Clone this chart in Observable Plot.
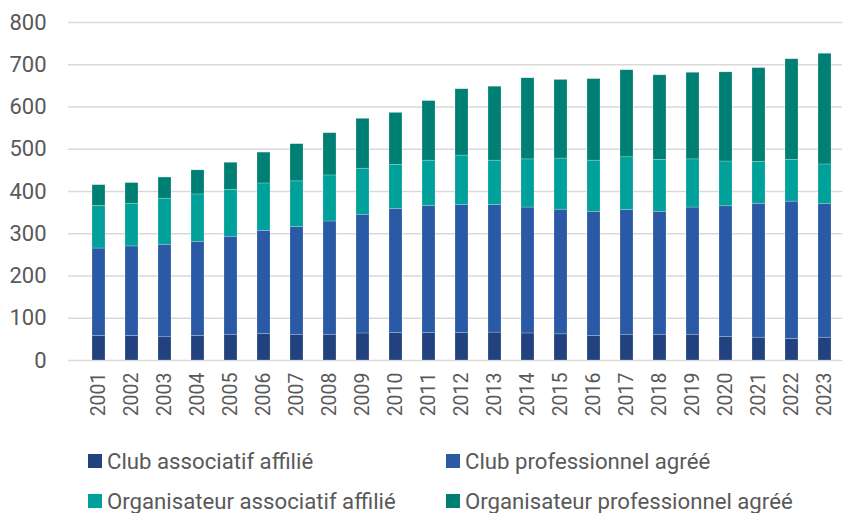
<!DOCTYPE html>
<html>
<head>
<meta charset="utf-8">
<script src="https://cdn.jsdelivr.net/npm/d3@7"></script>
<script src="https://cdn.jsdelivr.net/npm/@observablehq/plot@0.6"></script>
<style>
  html, body { margin: 0; padding: 0; background: #fff; overflow: hidden; }
  #wrap { position: relative; width: 842px; height: 513px; font-family: Roboto, "Noto Sans", sans-serif; }
  #legend { position: absolute; left: 0; top: 0; width: 842px; height: 513px; pointer-events: none; }
  .item { position: absolute; display: flex; align-items: center; font-size: 22.2px; color: #595959; white-space: nowrap; }
  .sw { width: 14px; height: 14px; margin-right: 5px; }
</style>
</head>
<body>
<div id="wrap">
  <div id="chart"></div>
  <div id="legend"></div>
</div>
<script>
const years = ["2001","2002","2003","2004","2005","2006","2007","2008","2009","2010","2011","2012","2013","2014","2015","2016","2017","2018","2019","2020","2021","2022","2023"];
const seriesNames = ["Club associatif affilié", "Club professionnel agréé", "Organisateur associatif affilié", "Organisateur professionnel agréé"];
const seriesColors = ["#22427F", "#2A59A5", "#00A19A", "#007F75"];
const clubAssoc = [58,58,55,58,61,63,61,61,64,65,65,65,66,64,62,58,61,61,61,56,54,51,54];
const clubPro   = [207,212,219,223,232,244,255,268,281,294,301,303,302,298,295,294,295,291,301,309,317,325,316];
const orgAssoc  = [101,101,109,112,111,112,108,109,109,104,107,117,105,114,121,121,125,123,114,106,99,99,94];
const orgPro    = [49,49,50,57,64,73,88,100,118,123,141,157,175,192,186,193,206,200,205,211,222,238,262];
const yTicks = [0,100,200,300,400,500,600,700,800];

const seriesValues = [clubAssoc, clubPro, orgAssoc, orgPro];
const data = [];
seriesNames.forEach((s, i) => years.forEach((y, j) => data.push({year: y, series: s, value: seriesValues[i][j]})));

const chart = Plot.plot({
  width: 842,
  height: 420,
  marginLeft: 68,
  marginRight: -13,
  marginTop: 22,
  marginBottom: 60,
  style: {fontFamily: "Roboto, 'Noto Sans', sans-serif", background: "transparent", overflow: "hidden"},
  x: {domain: years, padding: 0.6, label: null},
  y: {domain: [0, 800], label: null},
  color: {domain: seriesNames, range: seriesColors},
  marks: [
    Plot.gridY(yTicks, {stroke: "#D9D9D9", strokeOpacity: 1, strokeWidth: 1.5}),
    Plot.barY(data, {x: "year", y: "value", fill: "series", stroke: "#ffffff", strokeOpacity: 0.35, strokeWidth: 0.6}),
    Plot.axisY(yTicks, {tickSize: 0, tickPadding: 22, fontSize: 22, fill: "#595959", label: null}),
    Plot.axisX({tickSize: 0, tickPadding: 12, tickRotate: -90, fontSize: 19.5, fill: "#595959", label: null})
  ]
});
document.getElementById("chart").appendChild(chart);

const legend = document.getElementById("legend");
const pos = [[88, 461], [446, 461], [88, 501], [446, 501]];
seriesNames.forEach((s, i) => {
  const d = document.createElement("div");
  d.className = "item";
  d.style.left = pos[i][0] + "px";
  d.style.top = (pos[i][1] - 14) + "px";
  d.style.height = "28px";
  const sw = document.createElement("span");
  sw.className = "sw";
  sw.style.background = seriesColors[i];
  const t = document.createElement("span");
  t.textContent = s;
  d.appendChild(sw); d.appendChild(t);
  legend.appendChild(d);
});
</script>
</body>
</html>
